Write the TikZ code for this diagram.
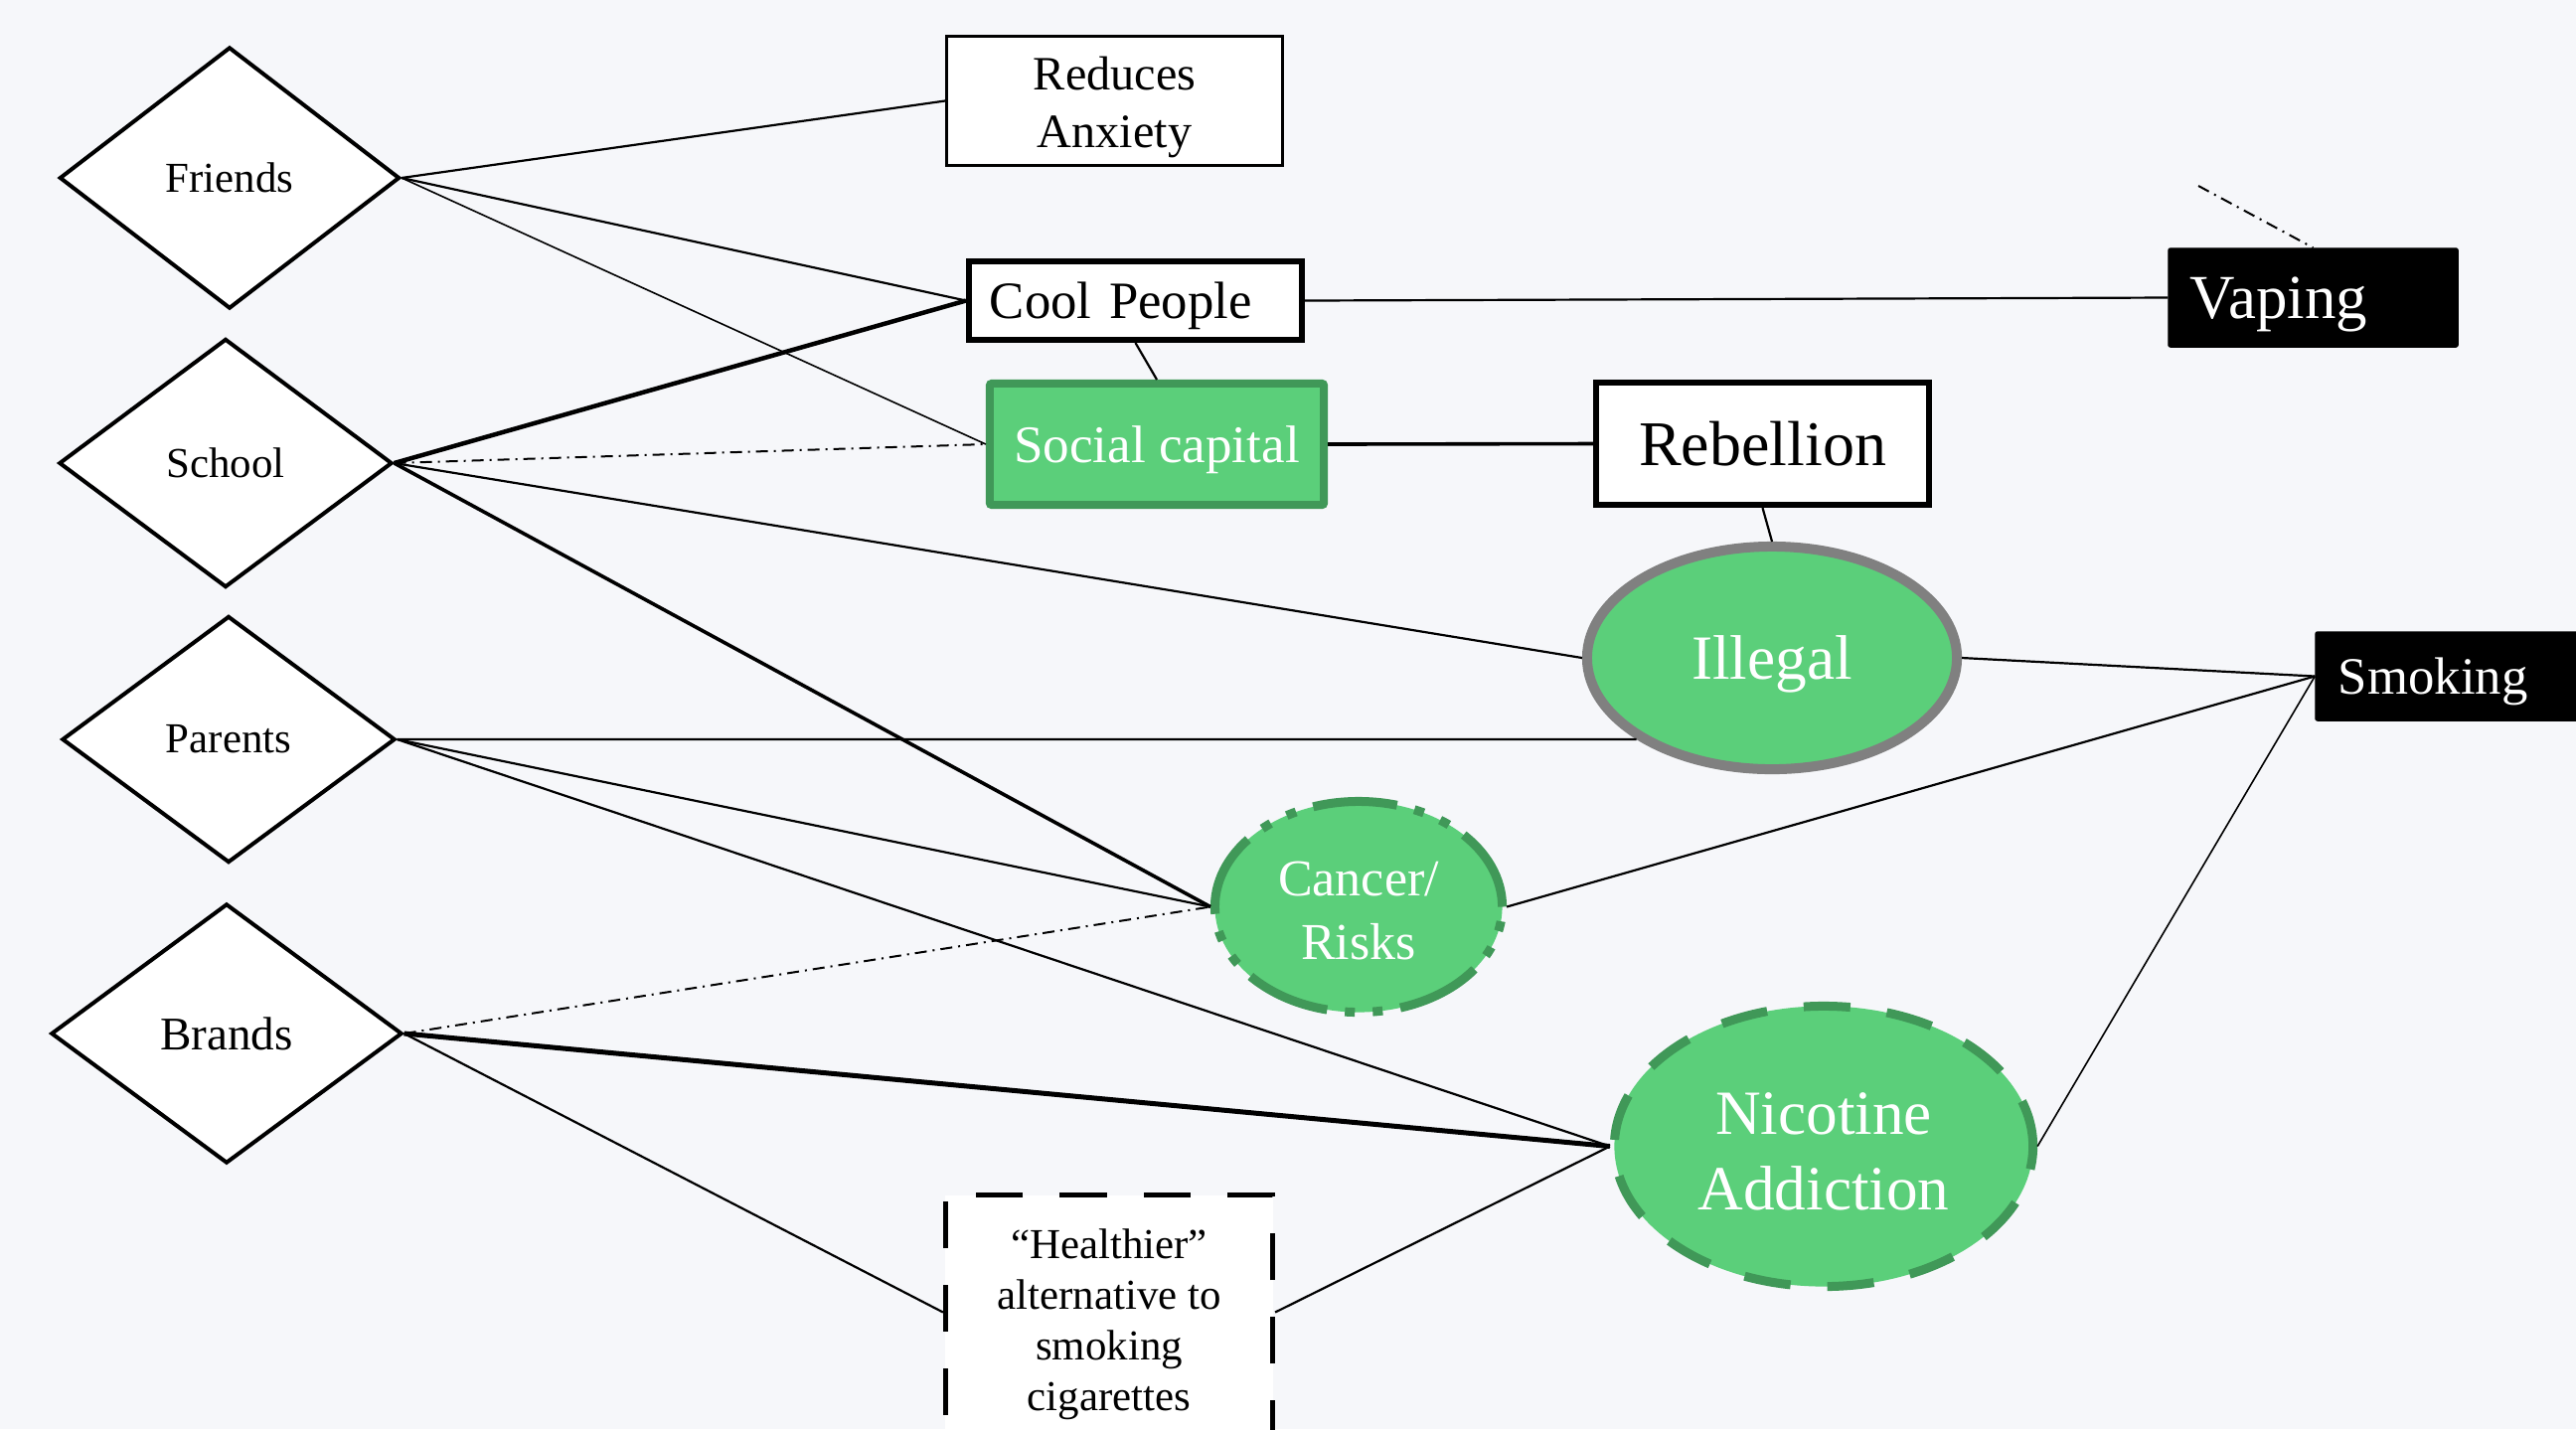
\documentclass[tikz,border=0pt]{standalone}
\usepackage{fontspec}
\setmainfont{Liberation Serif}
\usetikzlibrary{shapes.geometric}
\definecolor{bgc}{RGB}{246,247,250}
\definecolor{gfill}{RGB}{91,207,122}
\definecolor{gline}{RGB}{64,152,88}
\definecolor{ellgray}{RGB}{128,128,128}
\begin{document}
\begin{tikzpicture}[x=0.01cm,y=-0.01cm,
  dia/.style={draw, shape=diamond, line width=0.04cm, fill=white, inner sep=0pt,
    font=\fontsize{12.2}{14.5}\selectfont},
  box/.style={draw, rectangle, fill=white, inner sep=0pt, align=center},
  blackbox/.style={draw=black, fill=black, text=white, rectangle, rounded corners=0.02cm,
    inner ysep=0pt, align=left, text depth=0pt},
  ell/.style={shape=ellipse, fill=gfill, text=white, inner sep=0pt, align=center},
  thinA/.style={line width=0.022cm},
  thinB/.style={line width=0.016cm},
  medA/.style={line width=0.036cm},
  thickA/.style={line width=0.045cm},
  thickB/.style={line width=0.05cm},
  ddash/.style={line width=0.02cm, dash pattern=on 0.12cm off 0.06cm on 0.02cm off 0.06cm}]
\fill[bgc] (0,0) rectangle (2592,1438);
\useasboundingbox (0,0) rectangle (2592,1438);

% diamonds
\node[dia, minimum width=3.42cm, minimum height=2.63cm] (friends) at (231,179) {Friends};
\node[dia, minimum width=3.35cm, minimum height=2.50cm] (school) at (227,466) {School};
\node[dia, minimum width=3.35cm, minimum height=2.48cm] (parents) at (230,744) {Parents};
\node[dia, minimum width=3.53cm, minimum height=2.61cm, font=\fontsize{13.4}{16}\selectfont] (brands) at (228,1040) {Brands};

% boxes
\node[box, line width=0.03cm, minimum width=3.38cm, minimum height=1.30cm,
  font=\fontsize{13.7}{16.5}\selectfont] (reduces) at (1121.5,101.5) {\rule{0pt}{13.3pt}Reduces\\Anxiety};
\node[box, line width=0.06cm, minimum height=0.79cm, text width=2.93cm, inner xsep=0.21cm,
  align=left, text depth=0pt, font=\fontsize{15}{18}\selectfont] (cool) at (1142.5,302.5) {Cool People};
\node[box, draw=gline, fill=gfill, text=white, line width=0.08cm, rounded corners=0.02cm,
  minimum width=3.36cm, minimum height=1.22cm, text depth=0pt, font=\fontsize{15.1}{18}\selectfont]
  (social) at (1164,447) {Social capital};
\node[box, line width=0.06cm, minimum width=3.35cm, minimum height=1.23cm,
  font=\fontsize{18.2}{22}\selectfont] (rebellion) at (1773.5,446.5) {Rebellion};
\node[blackbox, text width=2.47cm, inner xsep=0.22cm, minimum height=0.99cm,
  font=\fontsize{17.9}{21}\selectfont] (vaping) at (2327.5,299.5) {Vaping};
\node[blackbox, text width=2.40cm, inner xsep=0.23cm, minimum height=0.89cm,
  font=\fontsize{15}{18}\selectfont] (smoking) at (2473,680.5) {Smoking};
\node[box, line width=0.05cm, dash pattern=on 0.47cm off 0.37cm, minimum width=3.29cm,
  minimum height=2.60cm, font=\fontsize{12.2}{14.5}\selectfont]
  (healthier) at (1116,1333) {``Healthier''\\alternative to\\smoking\\cigarettes};

% ellipses
\node[ell, draw=ellgray, line width=0.10cm, minimum width=3.72cm, minimum height=2.24cm,
  text depth=0pt, font=\fontsize{18}{22}\selectfont] (illegal) at (1783,662) {Illegal};
\node[ell, draw=gline, line width=0.09cm, minimum width=2.89cm, minimum height=2.12cm,
  dash pattern=on 0.85cm off 0.18cm on 0.1cm off 0.18cm on 0.1cm off 0.18cm,
  font=\fontsize{14.8}{18.2}\selectfont] (cancer) at (1367,912.5) {\rule{0pt}{11.8pt}Cancer/\\Risks};
\node[ell, draw=gline, line width=0.09cm, minimum width=4.21cm, minimum height=2.82cm,
  dash pattern=on 0.47cm off 0.37cm,
  font=\fontsize{18}{21.6}\selectfont] (nicotine) at (1835,1153.5) {\rule{0pt}{15pt}Nicotine\\Addiction};

\coordinate (hw) at ([yshift=-1.2cm]healthier.north west);
\coordinate (he) at ([yshift=-1.2cm]healthier.north east);

% connectors
\draw[thinA] (friends.east) -- (reduces.west);
\draw[thinA] (friends.east) -- (cool.west);
\draw[thinB] (friends.east) -- (social.west);
\draw[thickA] (school.east) -- (cool.west);
\draw[ddash] (school.east) -- (social.west);
\draw[thinA] (school.east) -- (illegal.west);
\draw[medA] (school.east) -- (cancer.west);
\draw[thinA] (cool.south) -- (social.north);
\draw[thinA] (cool.east) -- (vaping.west);
\draw[medA] (social.east) -- (rebellion.west);
\draw[thinA] (rebellion.south) -- (illegal.north);
\draw[thinA] (illegal.east) -- (smoking.west);
\draw[thinA] (parents.east) -- (illegal.211);
\draw[thinA] (parents.east) -- (cancer.west);
\draw[thinA] (parents.east) -- (nicotine.west);
\draw[ddash] (brands.east) -- (cancer.west);
\draw[thickB] (brands.east) -- (nicotine.west);
\draw[thinA] (brands.east) -- (hw);
\draw[thinA] (he) -- (nicotine.west);
\draw[thinA] (cancer.east) -- (smoking.west);
\draw[thinB] (nicotine.east) -- (smoking.west);
\coordinate (vfree) at (2212,187);
\draw[ddash] (vfree) -- (vaping.north);
\end{tikzpicture}
\end{document}
